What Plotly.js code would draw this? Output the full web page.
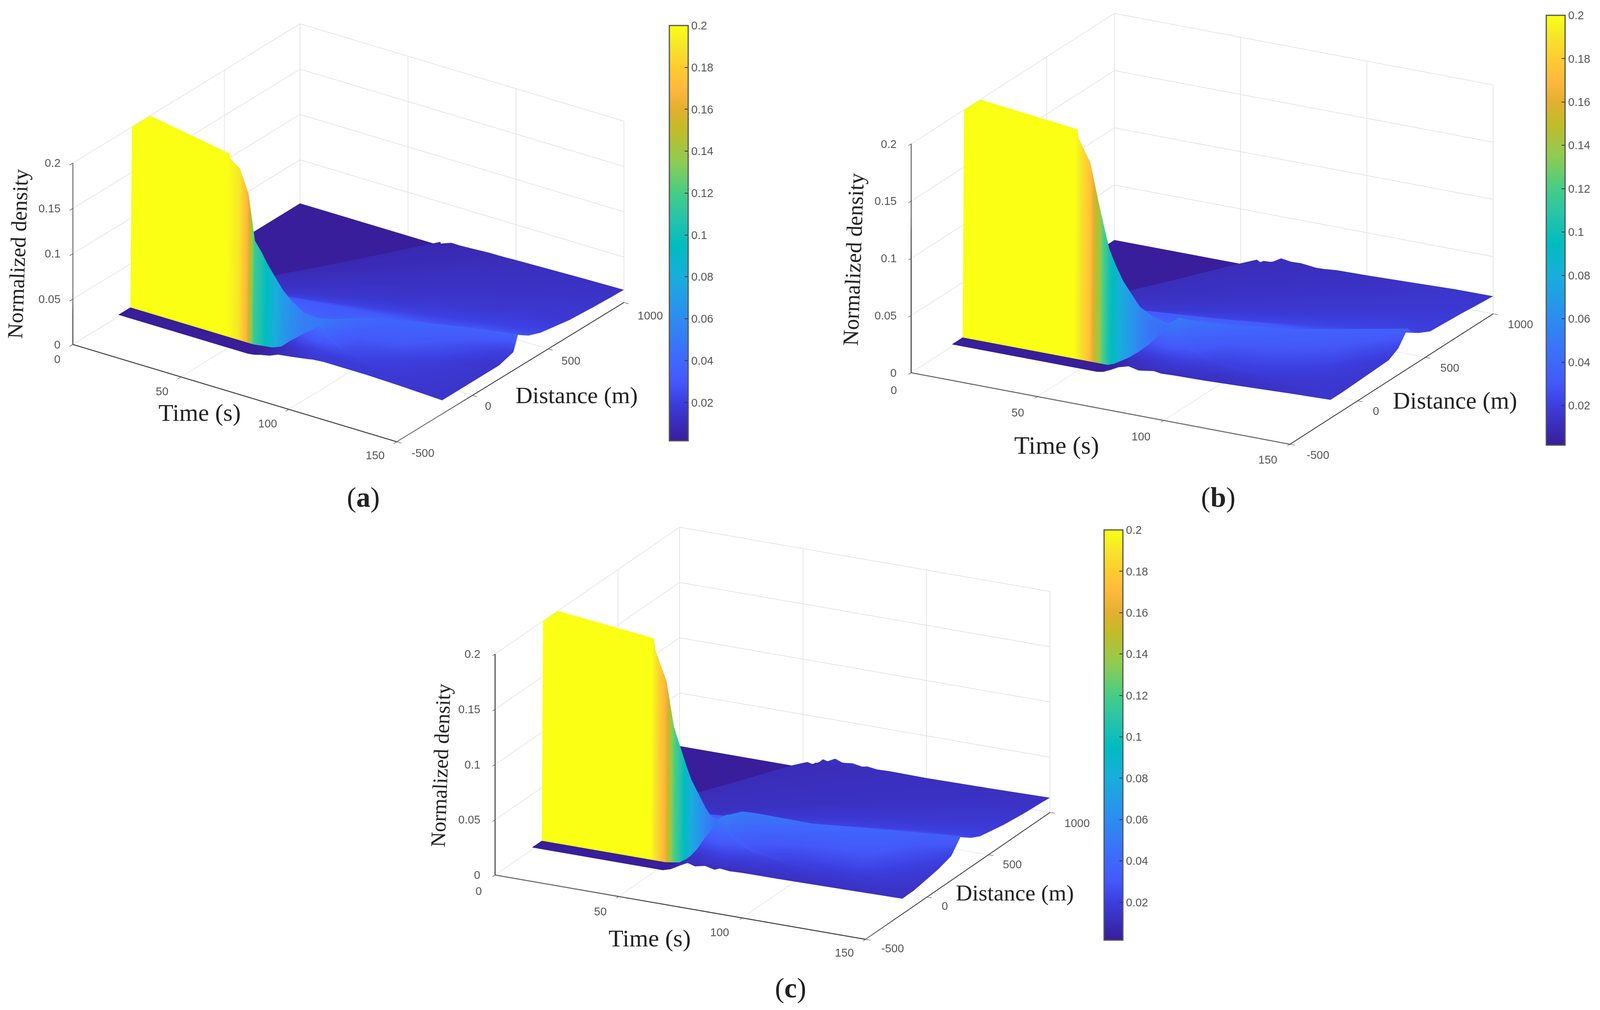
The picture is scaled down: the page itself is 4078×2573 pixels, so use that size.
<!DOCTYPE html>
<html><head><meta charset="utf-8">
<script src="https://cdn.plot.ly/plotly-3.0.1.min.js"></script>
<style>html,body{margin:0;padding:0;background:#fff}#p{width:4078px;height:2573px}</style>
</head><body><div id="p"></div>
<script>
const W=4078,H=2573;
const timeTicks=[0,50,100,150];
const distTicks=[-500,0,500,1000];
const densTicks=[0,0.05,0.1,0.15,0.2];
const densLabels=['0','0.05','0.1','0.15','0.2'];
const barTicks=[0.02,0.04,0.06,0.08,0.1,0.12,0.14,0.16,0.18,0.2];
const barLabels=['0.02','0.04','0.06','0.08','0.1','0.12','0.14','0.16','0.18','0.2'];
const colorValues=[0.0017,0.02,0.03,0.04,0.06,0.08,0.095,0.11,0.12,0.135,0.15,0.16,0.17,0.18,0.19,0.2];
const colorHex=['#381e9a','#3c3ede','#4458fa','#3f68fb','#2d8cf0','#18aedb','#00bcc0','#2dc5a5','#45cd85','#8fcc52','#c2bc28','#e2b030','#ffb83c','#ffcc30','#f5e52a','#faff14'];

const timeA=[0,10,20,30,40,44,50,54,57,60,63,66,70,74,80,88,90,95,100,115,130,150];
const distA=[
[-200,-150,-121,-120,-110,10,12,14,16,18,20,22,24,26,28,30,1000],
[-200,-150,-121,-120,-110,-13,-5,0,2,4,6,8,10,12,14,16,1000],
[-200,-150,-121,-120,-110,-36,-28,-10,10,40,70,90,110,130,160,171,1000],
[-200,-150,-121,-120,-110,-59,-50,-20,15,60,100,150,200,270,338,351,1000],
[-200,-150,-121,-120,-110,-82,-72,-30,15,80,130,200,290,400,518,531,1000],
[-200,-150,-121,-120,-110,-92,-84,-35,15,88,140,220,320,450,590,603,1000],
[-200,-150,-121,-120,-110,-100,-92,-40,15,100,160,250,360,520,698,711,1000],
[-200,-150,-121,-120,-110,-100,-92,-40,15,108,172,270,390,560,770,783,1000],
[-200,-150,-121,-120,-110,-100,-92,-40,15,114,182,285,410,593,824,837,1000],
[-200,-150,-121,-120,-110,-100,-92,-40,15,120,192,300,432,624,878,891,1000],
[-200,-150,-121,-120,-110,-100,-92,-40,15,126,202,315,454,655,932,945,1000],
[-200,-150,-121,-120,-110,-100,-92,-40,15,132,211,330,475,686,986,993,1000],
[-200,-150,-121,-120,-110,-100,-92,-40,15,140,224,350,504,728,900,980,1000],
[-200,-150,-121,-120,-110,-100,-92,-40,15,148,237,370,533,770,900,980,1000],
[-200,-150,-121,-120,-110,-100,-92,-40,15,160,256,400,576,832,900,980,1000],
[-200,-150,-121,-120,-110,-105,-100,-95,-60,176,282,440,634,915,960,980,1000],
[-200,-150,-121,-120,-110,-95,-80,-60,-30,180,288,450,648,936,960,980,1000],
[-200,-150,-121,-120,-110,-70,-20,40,70,190,304,475,684,940,960,980,1000],
[-200,-150,-121,-120,-110,-50,20,110,140,200,320,500,720,940,960,980,1000],
[-200,-150,-121,-120,-110,-40,40,180,205,250,368,575,828,940,960,980,1000],
[-200,-150,-121,-120,-110,40,150,240,265,300,416,650,900,940,965,980,1000],
[-200,-150,-121,-120,-110,175,270,300,325,370,450,640,800,940,965,980,1000]
];
const densA=[
[.002,.002,.002,.002,.2,.2,.002,.002,.002,.002,.002,.002,.002,.002,.002,.002,.002],
[.002,.002,.002,.002,.2,.2,.036,.036,.035,.035,.034,.034,.034,.03,.02,.002,.002],
[.002,.002,.002,.002,.2,.2,.08,.038,.034,.03,.02,.017,.015,.014,.012,.002,.002],
[.002,.002,.002,.002,.2,.2,.08,.038,.034,.03,.021,.016,.014,.0118,.0098,.002,.002],
[.002,.002,.002,.002,.2,.2,.12,.038,.035,.03,.022,.016,.0133,.011,.0088,.002,.002],
[.002,.002,.002,.002,.2,.2,.13,.038,.035,.03,.022,.016,.0133,.0108,.0085,.002,.002],
[.002,.002,.002,.002,.19,.1,.06,.038,.035,.03,.022,.016,.0133,.0105,.0082,.002,.002],
[.002,.002,.002,.002,.165,.08,.05,.038,.035,.03,.022,.016,.0133,.0105,.0082,.002,.002],
[.002,.002,.002,.002,.115,.07,.047,.038,.035,.03,.022,.016,.0133,.0105,.0082,.002,.002],
[.002,.002,.003,.003,.105,.065,.045,.038,.035,.03,.022,.016,.0133,.0105,.0082,.002,.002],
[.003,.003,.004,.004,.093,.06,.044,.038,.035,.03,.022,.016,.0133,.0105,.0082,.002,.002],
[.005,.006,.005,.005,.083,.056,.043,.038,.035,.03,.022,.016,.0133,.0105,.0082,.002,.005],
[.007,.009,.009,.009,.07,.052,.042,.038,.035,.03,.022,.016,.0133,.0105,.0088,.0085,.0086],
[.011,.012,.018,.018,.061,.05,.041,.038,.035,.03,.022,.016,.0133,.0105,.0092,.0085,.0085],
[.013,.016,.03,.03,.052,.05,.042,.038,.035,.03,.022,.016,.0133,.0105,.0098,.0093,.0092],
[.016,.022,.045,.045,.05,.05,.05,.05,.04,.03,.022,.016,.0133,.0105,.0104,.0103,.0103],
[.017,.021,.036,.036,.04,.042,.044,.047,.042,.03,.022,.016,.0133,.0105,.0104,.0103,.0103],
[.018,.02,.028,.028,.03,.034,.038,.042,.038,.03,.022,.016,.0133,.0108,.0107,.0106,.0105],
[.018,.019,.024,.024,.025,.028,.034,.038,.035,.03,.022,.016,.0133,.0113,.0112,.011,.011],
[.018,.018,.02,.02,.02,.023,.032,.037,.034,.028,.022,.016,.0133,.0123,.0122,.012,.012],
[.017,.017,.017,.017,.0175,.02,.028,.036,.033,.029,.022,.016,.0137,.0132,.0131,.013,.013],
[.015,.015,.015,.015,.015,.015,.02,.036,.033,.028,.023,.0175,.0155,.0143,.0142,.0141,.014]
];

const timeB=[0,10,20,30,40,44,50,54,57.5,60,63,66,70,74,80,83,88,100,118,135,150];
const distB=[
[-200,-150,-121,-120,-110,10,12,14,16,18,20,22,24,26,28,30,1000],
[-200,-150,-121,-120,-110,-13,-5,0,2,4,6,8,10,12,14,16,1000],
[-200,-150,-121,-120,-110,-36,-28,-10,10,40,70,100,130,165,197,210,1000],
[-200,-150,-121,-120,-110,-59,-50,-20,15,60,96,150,216,312,407,420,1000],
[-200,-150,-121,-120,-110,-82,-72,-30,15,80,128,200,288,416,617,630,1000],
[-200,-150,-121,-120,-110,-92,-84,-35,15,88,141,220,317,458,701,714,1000],
[-200,-150,-121,-120,-110,-100,-92,-40,15,100,160,250,360,520,827,840,1000],
[-200,-150,-121,-120,-110,-100,-92,-40,15,108,173,270,389,562,911,924,1000],
[-200,-150,-121,-120,-110,-100,-92,-40,15,115,184,288,414,598,980,990,1000],
[-200,-150,-121,-120,-110,-100,-92,-40,15,120,192,300,432,624,960,980,1000],
[-200,-150,-121,-120,-110,-100,-92,-40,15,126,202,315,454,655,960,980,1000],
[-200,-150,-121,-120,-110,-100,-92,-40,15,132,211,330,475,686,960,980,1000],
[-200,-150,-121,-120,-110,-100,-92,-40,15,140,224,350,504,728,960,980,1000],
[-200,-150,-121,-120,-110,-100,-92,-40,15,148,237,370,533,770,960,980,1000],
[-200,-150,-121,-120,-110,-100,-92,-40,15,160,256,400,576,832,960,980,1000],
[-200,-150,-121,-120,-110,-100,-90,-70,-40,166,266,415,598,863,960,980,1000],
[-200,-150,-121,-120,-110,-90,-60,-30,5,176,282,440,634,915,960,980,1000],
[-200,-150,-121,-120,-110,-60,0,65,95,200,320,500,720,940,960,980,1000],
[-200,-150,-121,-120,-110,-50,60,160,190,236,378,590,850,940,960,980,1000],
[-200,-150,-121,-120,-110,20,150,270,300,340,432,675,900,940,960,980,1000],
[-200,-150,-121,-120,-110,229,300,370,400,450,535,768,850,940,960,980,1000]
];
const densB=[
[.002,.002,.002,.002,.2,.2,.002,.002,.002,.002,.002,.002,.002,.002,.002,.002,.002],
[.002,.002,.002,.002,.2,.2,.036,.036,.036,.036,.035,.035,.034,.03,.02,.002,.002],
[.002,.002,.002,.002,.2,.2,.08,.04,.036,.032,.021,.018,.0155,.0135,.0125,.002,.002],
[.002,.002,.002,.002,.2,.2,.08,.04,.036,.032,.023,.018,.015,.0127,.0112,.002,.002],
[.002,.002,.002,.002,.2,.2,.12,.04,.036,.032,.023,.018,.015,.0127,.0107,.002,.002],
[.002,.002,.002,.002,.2,.2,.13,.04,.036,.032,.023,.018,.015,.0127,.0105,.002,.002],
[.002,.002,.002,.002,.175,.1,.06,.04,.036,.032,.023,.018,.015,.0127,.0105,.002,.002],
[.002,.002,.002,.002,.135,.08,.05,.04,.036,.032,.023,.018,.015,.0127,.0105,.002,.002],
[.002,.002,.002,.002,.103,.072,.049,.04,.036,.032,.023,.018,.015,.0127,.0103,.002,.002],
[.003,.003,.004,.004,.09,.07,.048,.04,.036,.032,.023,.018,.015,.0127,.0104,.0103,.006],
[.006,.006,.008,.008,.077,.065,.047,.04,.036,.032,.023,.018,.015,.0127,.0108,.0106,.0095],
[.0095,.009,.012,.012,.068,.06,.046,.04,.036,.032,.023,.018,.015,.0127,.011,.012,.0135],
[.012,.012,.019,.019,.056,.055,.045,.04,.036,.032,.023,.018,.015,.0127,.0113,.0118,.0122],
[.01,.014,.027,.027,.047,.05,.044,.04,.036,.032,.023,.018,.015,.0127,.0113,.0115,.0125],
[.012,.018,.042,.042,.042,.046,.044,.041,.037,.032,.023,.018,.015,.0127,.012,.0115,.011],
[.011,.022,.05,.05,.05,.05,.05,.05,.042,.032,.023,.018,.015,.0127,.0118,.0116,.0113],
[.0115,.02,.03,.03,.032,.036,.04,.046,.04,.032,.023,.018,.015,.0127,.0125,.0124,.0123],
[.012,.015,.021,.021,.022,.026,.033,.04,.036,.032,.023,.018,.015,.013,.0129,.0128,.0128],
[.0135,.014,.018,.018,.019,.023,.031,.037,.034,.03,.023,.018,.015,.0145,.0143,.0142,.014],
[.015,.015,.016,.016,.016,.021,.029,.036,.033,.029,.023,.018,.016,.0158,.0157,.0155,.0152],
[.016,.016,.016,.016,.016,.018,.023,.035,.03,.025,.02,.018,.017,.016,.0158,.0156,.0154]
];

const timeC=[0,10,20,30,40,44,50,53,56,58,60,63,66,70,74,76,80,85,100,127,150];
const distC=[
[-200,-150,-121,-120,-110,10,12,14,16,18,20,22,24,26,28,30,1000],
[-200,-150,-121,-120,-110,-13,-5,0,2,4,6,8,10,12,14,16,1000],
[-200,-150,-121,-120,-110,-36,-28,-10,10,40,70,100,130,170,203,216,1000],
[-200,-150,-121,-120,-110,-59,-50,-20,15,60,96,150,216,312,443,456,1000],
[-200,-150,-121,-120,-110,-82,-72,-30,15,80,128,200,288,416,683,696,1000],
[-200,-150,-121,-120,-110,-92,-84,-35,15,88,141,220,317,458,779,792,1000],
[-200,-150,-121,-120,-110,-100,-92,-40,15,100,160,250,360,520,923,936,1000],
[-200,-150,-121,-120,-110,-100,-92,-40,15,106,170,265,382,551,975,990,1000],
[-200,-150,-121,-120,-110,-100,-92,-40,15,112,179,280,403,582,960,980,1000],
[-200,-150,-121,-120,-110,-100,-92,-40,15,116,186,290,418,603,960,980,1000],
[-200,-150,-121,-120,-110,-100,-92,-40,15,120,192,300,432,624,960,980,1000],
[-200,-150,-121,-120,-110,-100,-92,-40,15,126,202,315,454,655,960,980,1000],
[-200,-150,-121,-120,-110,-100,-92,-40,15,132,211,330,475,686,960,980,1000],
[-200,-150,-121,-120,-110,-100,-92,-40,15,140,224,350,504,728,960,980,1000],
[-200,-150,-121,-120,-110,-105,-100,-95,-40,148,237,370,533,770,960,980,1000],
[-200,-150,-121,-120,-110,-90,-60,-17,10,152,243,380,547,790,960,980,1000],
[-200,-150,-121,-120,-110,-80,-40,0,30,160,256,400,576,832,960,980,1000],
[-200,-150,-121,-120,-110,-70,-30,20,50,170,272,425,612,884,960,980,1000],
[-200,-150,-121,-120,-110,-50,10,68,95,200,320,500,720,940,960,980,1000],
[-200,-150,-121,-120,-110,-60,40,190,215,254,406,635,900,940,960,980,1000],
[-200,-150,-121,-120,-110,87,198,275,300,360,431,621,800,940,960,980,1000]
];
const densC=[
[.002,.002,.002,.002,.2,.2,.002,.002,.002,.002,.002,.002,.002,.002,.002,.002,.002],
[.002,.002,.002,.002,.2,.2,.037,.037,.037,.037,.036,.036,.036,.03,.02,.002,.002],
[.002,.002,.002,.002,.2,.2,.08,.04,.037,.03,.02,.016,.014,.0125,.0115,.002,.002],
[.002,.002,.002,.002,.2,.2,.08,.04,.037,.03,.021,.016,.013,.012,.0108,.002,.002],
[.002,.002,.002,.002,.2,.2,.12,.04,.037,.03,.021,.016,.013,.012,.0103,.002,.002],
[.002,.002,.002,.002,.2,.2,.13,.04,.037,.03,.021,.016,.013,.012,.0102,.002,.002],
[.002,.002,.002,.002,.165,.1,.06,.04,.037,.03,.021,.016,.013,.012,.0101,.002,.002],
[.002,.002,.003,.003,.125,.08,.05,.04,.037,.03,.021,.016,.013,.012,.01,.002,.002],
[.004,.005,.004,.004,.105,.07,.048,.04,.037,.03,.021,.016,.013,.012,.0102,.0102,.008],
[.0064,.008,.006,.006,.092,.066,.047,.04,.037,.03,.021,.016,.013,.012,.0103,.0104,.0125],
[.009,.011,.011,.011,.08,.06,.046,.04,.037,.03,.021,.016,.013,.012,.0104,.0106,.0115],
[.0124,.014,.019,.019,.068,.055,.045,.04,.037,.03,.021,.016,.013,.012,.0106,.0125,.015],
[.0105,.016,.03,.03,.056,.05,.045,.04,.037,.03,.021,.016,.013,.012,.0108,.0112,.0125],
[.0125,.02,.042,.042,.044,.047,.045,.04,.037,.03,.021,.016,.013,.012,.011,.012,.0135],
[.0105,.024,.05,.05,.052,.053,.053,.052,.042,.03,.021,.016,.013,.012,.0112,.0113,.012],
[.0125,.024,.036,.036,.04,.044,.047,.05,.043,.03,.021,.016,.013,.012,.0115,.0113,.013],
[.0115,.021,.03,.03,.034,.038,.043,.049,.041,.03,.021,.016,.013,.012,.0115,.0116,.0118],
[.012,.019,.025,.025,.028,.032,.038,.047,.04,.03,.021,.016,.013,.012,.0118,.0118,.0122],
[.0122,.016,.02,.02,.021,.027,.034,.042,.037,.03,.021,.016,.013,.0122,.012,.0119,.0118],
[.013,.015,.017,.017,.018,.024,.031,.037,.033,.03,.021,.016,.0132,.0129,.0127,.0126,.0125],
[.0138,.014,.014,.014,.014,.018,.022,.034,.031,.026,.022,.0177,.0152,.0141,.0138,.0136,.0134]
];

const cmin=colorValues[0],cmax=colorValues[colorValues.length-1];
const colorscale=colorValues.map((v,i)=>[(v-cmin)/(cmax-cmin),colorHex[i]]);
const tickFont={family:'Liberation Sans, Arial, sans-serif',size:29,color:'#555555'};
const serif='Liberation Serif, Times New Roman, serif';

const panels=[
 {time:timeA,dist:distA,dens:densA,scene:'scene',cx:888,cy:593,half:888,eye:[.518,-.740,.429],aspect:[1.7435,1.747,.885],r:3,
  bar:{l:1706,t:65,b:1123},
  timeOff:[[-40,37],[-48,37],[-54,36],[-55,35]],distOff:[[67,29],[40,27],[58,30],[67,33]],zOff:-30,
  timeTitle:[509,1051,62],distTitle:[1470,1007,60],densTitle:[45,647,55],cap:['a',926,1267]},
 {time:timeB,dist:distB,dens:densB,scene:'scene2',cx:3064,cy:583,half:1000,eye:[.447,-.824,.348],aspect:[1.9,1.88,1.076],r:3,
  bar:{l:3941,t:39,b:1134},
  timeOff:[[-44,44],[-50,41],[-58,41],[-57,39]],distOff:[[71,27],[47,26],[62,27],[70,27]],zOff:-35,
  timeTitle:[2693,1134,64],distTitle:[3708,1021,61],densTitle:[2175,661,56],cap:['b',3105,1267]},
 {time:timeC,dist:distC,dens:densC,scene:'scene3',cx:1969,cy:1868,half:1000,eye:[.421,-.838,.345],aspect:[1.828,1.812,1.038],r:3,
  bar:{l:2814,t:1350,b:2395},
  timeOff:[[-42,41],[-47,38],[-57,37],[-54,34]],distOff:[[69,23],[45,23],[61,24],[69,27]],zOff:-36,
  timeTitle:[1656,2390,62],distTitle:[2586,2274,58],densTitle:[1123,1950,53],cap:['c',2015,2517]}
];

const axisBase={showbackground:false,showgrid:true,gridcolor:'#dddddd',gridwidth:3,zeroline:false,showline:true,linecolor:'#3a3a3a',linewidth:5,
  ticks:'outside',ticklen:14,tickcolor:'#444444',tickwidth:3,showticklabels:false,showspikes:false,title:{text:''}};
const halfH=578;
const wallFoot=3,wallTop=4;
const traces=[],layout={width:W,height:H,margin:{l:0,r:0,t:0,b:0},paper_bgcolor:'#fff',plot_bgcolor:'#fff',showlegend:false,annotations:[]};
panels.forEach(p=>{
  p.dens.forEach((r,i)=>{if(r.length!==17||p.dist[i].length!==17)throw new Error(p.scene+' row '+i+' '+r.length+' '+p.dist[i].length);});
  if(p.dens.length!==p.time.length||p.dist.length!==p.time.length)throw new Error(p.scene+' rows');
  const xGrid=p.time.map((t,i)=>p.dist[i].map(()=>t));
  const colorGrid=p.dens.map(r=>r.map((v,j)=>j===wallFoot?r[wallTop]:v));
  traces.push({type:'surface',scene:p.scene,x:xGrid,y:p.dist,z:p.dens,surfacecolor:colorGrid,
    colorscale,cauto:false,cmin,cmax,showscale:true,hoverinfo:'skip',
    lighting:{ambient:1,diffuse:0,specular:0,fresnel:0,roughness:1},
    contours:{x:{highlight:false},y:{highlight:false},z:{highlight:false}},
    colorbar:{thicknessmode:'pixels',thickness:48,lenmode:'pixels',len:p.bar.b-p.bar.t,
      x:p.bar.l/W,xanchor:'left',y:1-p.bar.b/H,yanchor:'bottom',xpad:0,ypad:0,
      tickmode:'array',tickvals:barTicks,ticktext:barLabels,ticks:'inside',ticklen:10,tickwidth:2,tickcolor:'#333',
      outlinecolor:'#555',outlinewidth:3,borderwidth:0,tickfont:tickFont}
  });
  const ann=[];
  timeTicks.forEach((t,i)=>ann.push({x:t,y:distTicks[0],z:0,text:String(t),showarrow:false,font:tickFont,xshift:p.timeOff[i][0],yshift:-p.timeOff[i][1]}));
  distTicks.forEach((d,i)=>ann.push({x:timeTicks[3],y:d,z:0,text:String(d),showarrow:false,font:tickFont,xshift:p.distOff[i][0],yshift:-p.distOff[i][1]}));
  densTicks.forEach((z,i)=>ann.push({x:0,y:distTicks[0],z:z,text:densLabels[i],showarrow:false,font:tickFont,xanchor:'right',xshift:p.zOff}));
  layout[p.scene]={
    domain:{x:[(p.cx-p.half)/W,(p.cx+p.half)/W],y:[1-(p.cy+halfH)/H,1-(p.cy-halfH)/H]},
    aspectmode:'manual',aspectratio:{x:p.aspect[0],y:p.aspect[1],z:p.aspect[2]},
    camera:{projection:{type:'orthographic'},center:{x:0,y:0,z:0},up:{x:0,y:0,z:1},eye:{x:p.eye[0]*p.r,y:p.eye[1]*p.r,z:p.eye[2]*p.r}},
    xaxis:Object.assign({},axisBase,{range:[0,150],tickvals:timeTicks}),
    yaxis:Object.assign({},axisBase,{range:[-500,1000],tickvals:distTicks}),
    zaxis:Object.assign({},axisBase,{range:[0,0.2],tickvals:densTicks}),
    annotations:ann,bgcolor:'#fff',dragmode:false
  };
  const note=(text,pos,ang)=>layout.annotations.push({xref:'paper',yref:'paper',x:pos[0]/W,y:1-pos[1]/H,xanchor:'center',yanchor:'middle',text,showarrow:false,textangle:ang,font:{family:serif,size:pos[2],color:'#222'}});
  note('Time (s)',p.timeTitle,0);
  note('Distance (m)',p.distTitle,0);
  note('Normalized density',p.densTitle,-88);
  note('(<b>'+p.cap[0]+'</b>)',[p.cap[1],p.cap[2],72],0);
});
window.addEventListener('load',()=>setTimeout(()=>Plotly.newPlot('p',traces,layout,{displayModeBar:false,responsive:false}),50));
</script></body></html>
